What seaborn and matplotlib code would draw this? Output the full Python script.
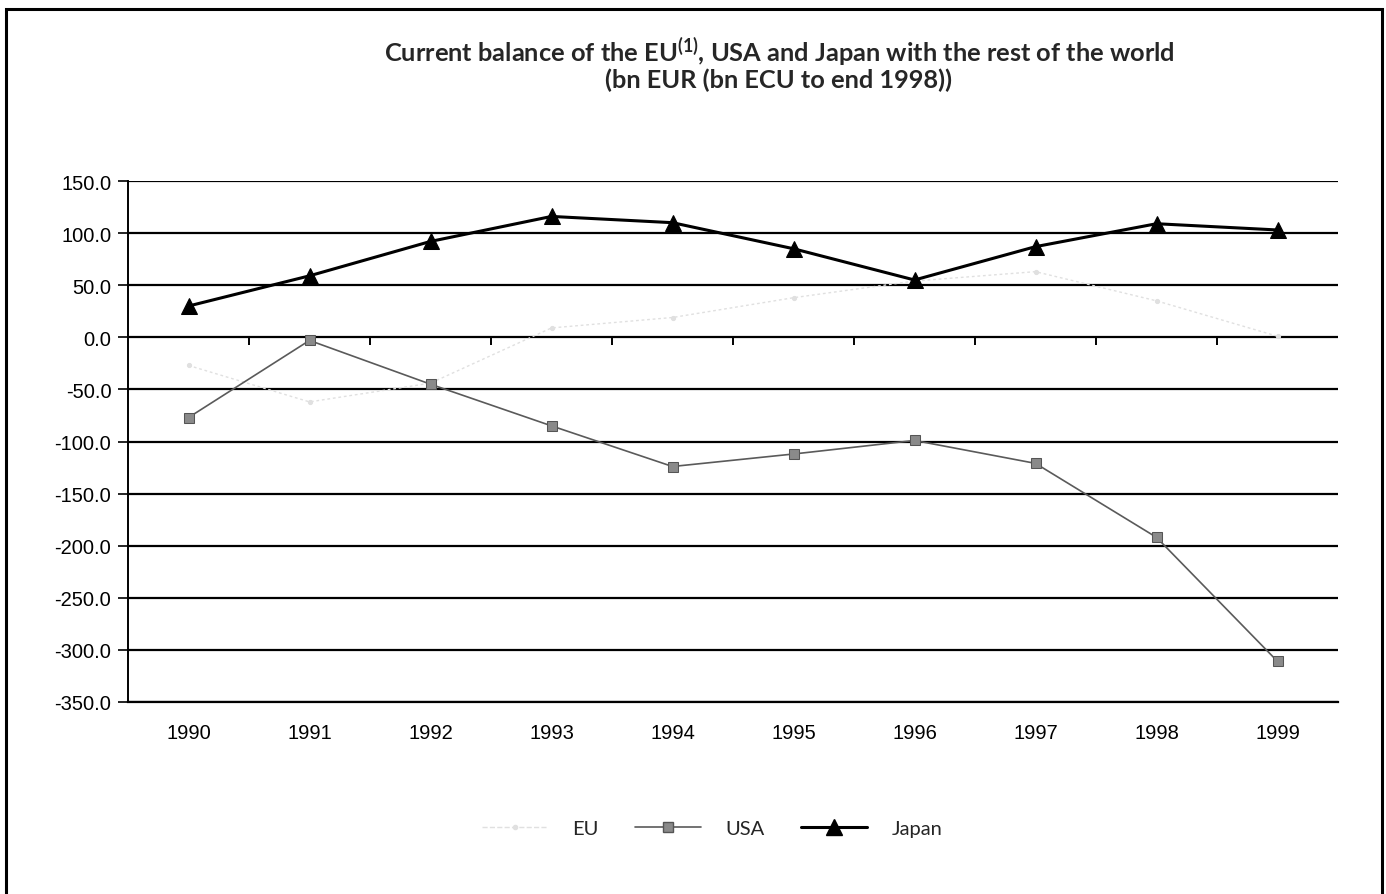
import matplotlib
matplotlib.use('Agg')
import matplotlib.pyplot as plt
import matplotlib.ticker as mticker
from matplotlib.patches import Rectangle
import seaborn as sns
import pandas as pd
import numpy as np

# Data (bn EUR)
years = ['1990', '1991', '1992', '1993', '1994', '1995', '1996', '1997', '1998', '1999']
eu = [-27, -62, -44, 9, 19, 38, 54, 63, 35, 1]
usa = [-77, -3, -45, -85, -124, -112, -99, -121, -192, -311]
japan = [30, 59, 92, 116, 110, 85, 55, 87, 109, 103]
series_names = ['EU', 'USA', 'Japan']
y_ticks = [150, 100, 50, 0, -50, -100, -150, -200, -250, -300, -350]

sns.set_theme(style='white')
plt.rcParams['font.family'] = ['Liberation Sans', 'DejaVu Sans']
plt.rcParams['mathtext.fontset'] = 'custom'
plt.rcParams['mathtext.rm'] = 'Lato'
plt.rcParams['mathtext.bf'] = 'Lato:bold'

df = pd.DataFrame({
    'pos': list(range(len(years))) * 3,
    'value': eu + usa + japan,
    'series': [s for s in series_names for _ in years],
})

fig = plt.figure(figsize=(13.86, 8.95), dpi=100)
ax = fig.add_axes([128/1386, 1-703/895, (1338-128)/1386, (703-182)/895])

palette = {'EU': '#e0e0e0', 'USA': '#5a5a5a', 'Japan': '#000000'}
markers = {'EU': 'o', 'USA': 's', 'Japan': '^'}
sns.lineplot(data=df, x='pos', y='value', hue='series', style='series',
             palette=palette, markers=markers, dashes=False, ax=ax,
             legend=False)

# line widths / marker sizes per series
for line, name in zip(ax.get_lines(), series_names):
    if name == 'EU':
        line.set_linewidth(1.0)
        line.set_linestyle((0, (2, 2)))
        line.set_markersize(3)
        line.set_markeredgecolor('#e0e0e0')
    elif name == 'USA':
        line.set_linewidth(1.2)
        line.set_markersize(7.5)
        line.set_markerfacecolor('#8a8a8a')
        line.set_markeredgecolor('#555555')
    else:
        line.set_linewidth(2.2)
        line.set_markersize(11)
        line.set_markeredgecolor('black')

ax.set_xlim(-0.5, len(years) - 0.5)
ax.set_ylim(-350, 150)
ax.set_yticks(y_ticks)
ax.yaxis.set_major_formatter(mticker.FuncFormatter(lambda v, p: f'{v:.1f}'))
ax.set_xticks(range(len(years)))
ax.set_xticklabels(years)
ax.tick_params(axis='x', length=0, pad=15, labelsize=14.5, colors='black')
ax.tick_params(axis='y', length=7, width=1.2, direction='out', left=True,
               pad=5, labelsize=14.5, colors='black')
ax.set_xlabel('')
ax.set_ylabel('')

ax.grid(axis='y', color='black', linewidth=1.6)
ax.grid(axis='x', visible=False)
ax.set_axisbelow(True)
for side in ['top', 'right']:
    ax.spines[side].set_visible(False)
ax.spines['left'].set_color('black')
ax.spines['left'].set_linewidth(1.4)
ax.spines['bottom'].set_color('black')
ax.spines['bottom'].set_linewidth(1.6)

# category tick marks on the zero line
bounds = np.arange(len(years) + 1) - 0.5
ax.vlines(bounds[1:-1], -7, 0, colors='black', linewidth=1.4, zorder=1)

# legend
handles = [plt.Line2D([], [], color=l.get_color(), linestyle=l.get_linestyle(),
                      linewidth=l.get_linewidth(), marker=l.get_marker(),
                      markersize=l.get_markersize(),
                      markerfacecolor=l.get_markerfacecolor(),
                      markeredgecolor=l.get_markeredgecolor())
           for l in ax.get_lines()[:3]]
fig.legend(handles, series_names, loc='center', bbox_to_anchor=(712/1386, 1-829/895),
           ncol=3, frameon=False, handlelength=3.3, columnspacing=1.8,
           handletextpad=1.2, prop={'family': 'Lato', 'size': 14.5})

fig.text(779/1386, 1-52/895,
         'Current balance of the EU$^{\\mathbf{(1)}}$, USA and Japan with the rest of the world',
         ha='center', va='center', fontsize=18.3, fontweight='bold', family='Lato')
fig.text(779/1386, 1-80/895, '(bn EUR (bn ECU to end 1998))',
         ha='center', va='center', fontsize=18.3, fontweight='bold', family='Lato')

fig.patches.append(Rectangle((6/1386, -0.02), (1382-6)/1386, 1.02-10/895,
                             transform=fig.transFigure, fill=False,
                             edgecolor='black', linewidth=2.2))

fig.savefig('out.png', dpi=100)
